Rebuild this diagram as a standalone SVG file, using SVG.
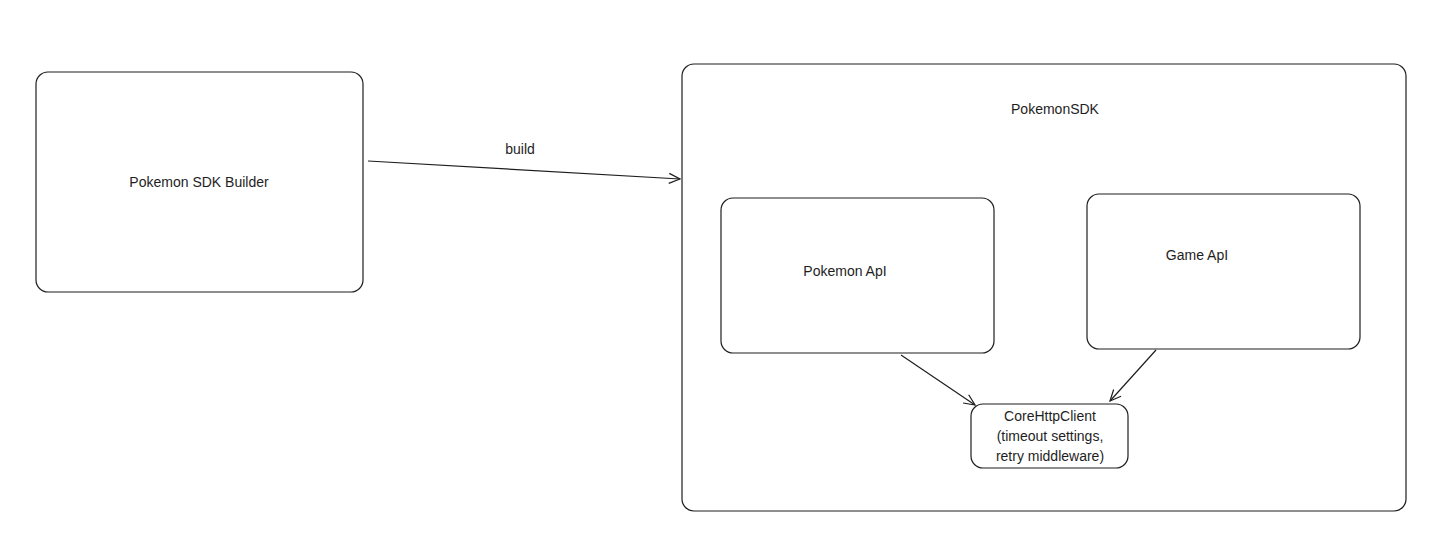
<svg xmlns="http://www.w3.org/2000/svg" width="1452" height="554" viewBox="0 0 1452 554">
<style>
.box{fill:#fff;stroke:#1e1e1e;stroke-width:1.2}
.t{font-family:"Liberation Sans","DejaVu Sans",sans-serif;font-size:14px;fill:#1e1e1e;text-anchor:middle}
.c{stroke:#1e1e1e;stroke-width:1.2;fill:none}
</style>
<defs>
<marker id="ah" markerWidth="14" markerHeight="14" refX="12" refY="7" orient="auto" markerUnits="userSpaceOnUse">
<path d="M1,2 L12,7 L1,12" fill="none" stroke="#1e1e1e" stroke-width="1.2"/>
</marker>
</defs>
<rect width="1452" height="554" fill="#fff"/>
<g id="builder">
<rect class="box" x="36" y="72" width="327" height="220" rx="12"/>
<text class="t" x="199" y="187">Pokemon SDK Builder</text>
</g>
<g id="sdk">
<rect class="box" x="682" y="64" width="724" height="447" rx="12"/>
<text class="t" x="1055" y="114">PokemonSDK</text>
</g>
<g id="pokemon-api">
<rect class="box" x="721" y="198" width="273" height="155" rx="12"/>
<text class="t" x="845" y="276">Pokemon ApI</text>
</g>
<g id="game-api">
<rect class="box" x="1087" y="194" width="273" height="155" rx="12"/>
<text class="t" x="1197" y="260">Game ApI</text>
</g>
<g id="core">
<rect class="box" x="971" y="404" width="157" height="64" rx="12"/>
<text class="t" x="1050" y="421">CoreHttpClient</text>
<text class="t" x="1050" y="441">(timeout settings,</text>
<text class="t" x="1050" y="461">retry middleware)</text>
</g>
<g id="connectors">
<path class="c" d="M368,161 L680,179" marker-end="url(#ah)"/>
<text class="t" x="520" y="154">build</text>
<path class="c" d="M901,355 L975,405" marker-end="url(#ah)"/>
<path class="c" d="M1156,350 L1110,401" marker-end="url(#ah)"/>
</g>
</svg>
